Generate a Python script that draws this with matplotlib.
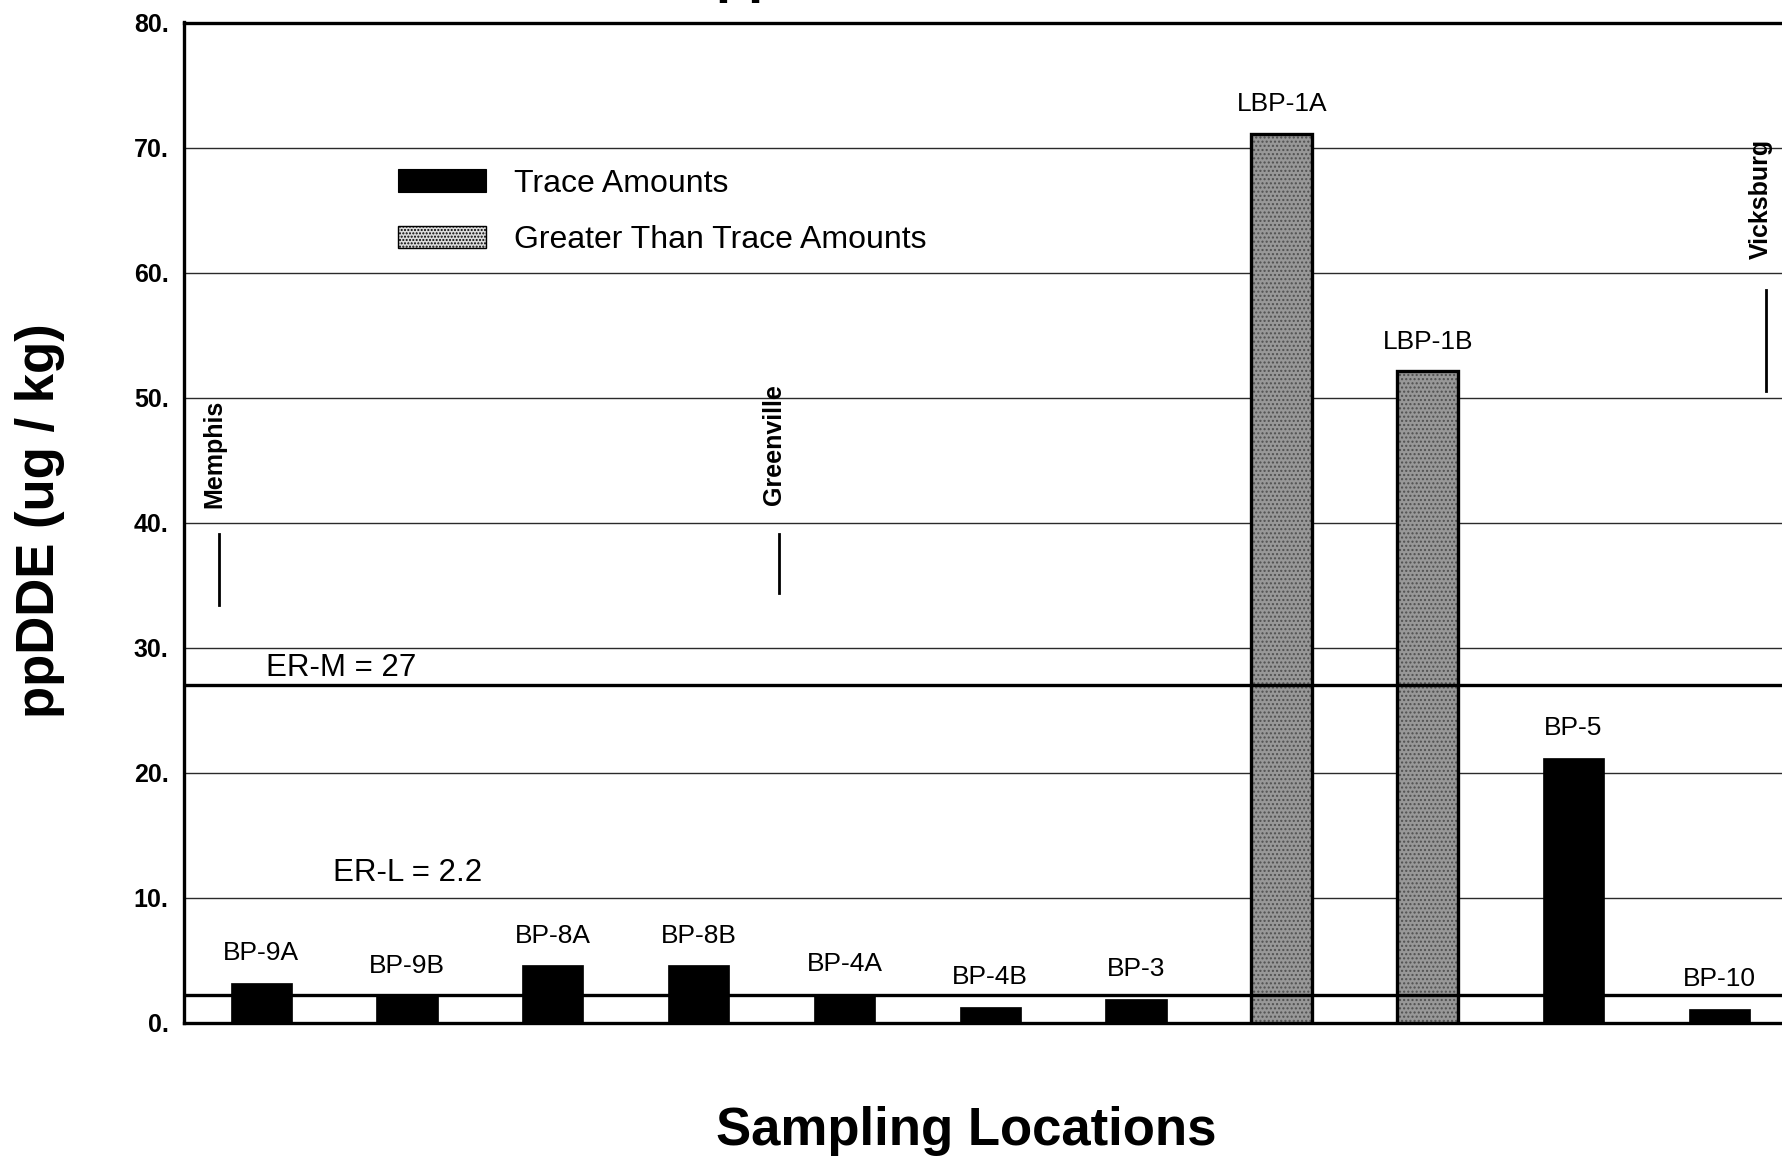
import matplotlib
matplotlib.use("Agg")
import matplotlib.pyplot as plt
from matplotlib.patches import Patch

# Sediment ppDDE concentrations by sampling location
locations = ["BP-9A", "BP-9B", "BP-8A", "BP-8B", "BP-4A", "BP-4B", "BP-3",
             "LBP-1A", "LBP-1B", "BP-5", "BP-10"]
values = [3.2, 2.2, 4.6, 4.6, 2.3, 1.3, 1.9, 71.1, 52.1, 21.2, 1.1]
above_trace = [False, False, False, False, False, False, False,
               True, True, False, False]

# Effects-range reference levels
er_m = 27
er_l = 2.2

y_ticks = [0, 10, 20, 30, 40, 50, 60, 70, 80]
y_tick_labels = ["0.", "10.", "20.", "30.", "40.", "50.", "60.", "70.", "80."]

# River towns marked along the sampling sequence
cities = ["Memphis", "Greenville", "Vicksburg"]

SANS = ["Liberation Sans", "DejaVu Sans"]
plt.rcParams["font.family"] = SANS

W, H = 1783, 1163
fig = plt.figure(figsize=(W / 100, H / 100), dpi=100)
fig.patch.set_facecolor("white")

ax_left = 184 / W
ax_bottom = (H - 1023) / H
ax_height = (1023 - 22.5) / H
ax_width = 1.01 - ax_left
ax = fig.add_axes([ax_left, ax_bottom, ax_width, ax_height])

x = list(range(len(locations)))
bar_w = 0.42

trace_x = [i for i in x if not above_trace[i]]
trace_v = [values[i] for i in x if not above_trace[i]]
high_x = [i for i in x if above_trace[i]]
high_v = [values[i] for i in x if above_trace[i]]

# grid first so bars sit on top
for yv in y_ticks[1:-1]:
    ax.axhline(yv, color="#2a2a2a", lw=1.0, zorder=1)

ax.bar(trace_x, trace_v, width=bar_w, color="black", edgecolor="black",
       linewidth=0.5, zorder=3)
# stippled grey fill plus a heavy outline for the above-trace samples
ax.bar(high_x, high_v, width=bar_w, color="#989898", edgecolor="#505050",
       hatch="....", linewidth=0, zorder=3)
ax.bar(high_x, high_v, width=bar_w, fill=False, edgecolor="black",
       linewidth=2.4, zorder=4)

# reference lines
ax.axhline(er_m, color="black", lw=2.4, zorder=5)
ax.axhline(er_l, color="black", lw=2.4, zorder=5)
ax.text(0.03, 28.4, f"ER-M = {er_m}", fontsize=22.5, ha="left", va="center",
        zorder=6)
ax.text(0.49, 12.0, f"ER-L = {er_l}", fontsize=22.5, ha="left", va="center",
        zorder=6)

# sample labels above each bar
for xi, v, name in zip(x, values, locations):
    ax.annotate(name, (xi, v), xytext=(0, 21.5), textcoords="offset points",
                ha="center", va="center", fontsize=19, zorder=6)

# city markers: a vertical tick with the name stacked above it
city_x = [-0.29, 3.55, 10.32]
city_text_bottom = [41.2, 41.4, 61.1]
city_line = [(33.4, 39.1), (34.4, 39.1), (50.5, 58.6)]
for name, cx, tb, (y0, y1) in zip(cities, city_x, city_text_bottom, city_line):
    ax.text(cx - 0.035, tb, name, rotation=90, ha="center", va="bottom",
            fontsize=18, fontweight="bold", zorder=6)
    ax.plot([cx, cx], [y0, y1], color="black", lw=2.0, zorder=6)

ax.set_xlim(-0.53, -0.53 + ax_width * W / 145.8)
ax.set_ylim(0, 80)
ax.set_xticks([])
ax.set_yticks(y_ticks)
ax.set_yticklabels(y_tick_labels, fontsize=18, fontweight="bold")
ax.tick_params(axis="y", length=0, pad=11)

for side in ["left", "top", "bottom"]:
    ax.spines[side].set_linewidth(2.4)
    ax.spines[side].set_color("black")
ax.spines["right"].set_visible(False)

handles = [
    Patch(facecolor="black", edgecolor="black", linewidth=0.8),
    Patch(facecolor="#dcdcdc", edgecolor="black", linewidth=1.0,
          hatch="....."),
]
ax.legend(handles, ["Trace Amounts", "Greater Than Trace Amounts"],
          loc="upper left", bbox_to_anchor=(0.1323, 0.854), frameon=False,
          fontsize=23, handlelength=2.77, handleheight=0.7,
          handletextpad=0.85, labelspacing=0.83, borderpad=0,
          borderaxespad=0)

fig.text(40 / W, 1 - 521 / H, "ppDDE (ug / kg)", rotation=90, ha="center",
         va="center", fontsize=38, fontweight="bold")
fig.text(966 / W, 1 - 1131 / H, "Sampling Locations", ha="center",
         va="center", fontsize=38, fontweight="bold")
# chart title sits mostly above the page edge
fig.text(715 / W, 1 + 8 / H, "ppDDE", ha="left", va="baseline",
         fontsize=39, fontweight="bold")

fig.savefig("out.png", dpi=100, facecolor="white")
